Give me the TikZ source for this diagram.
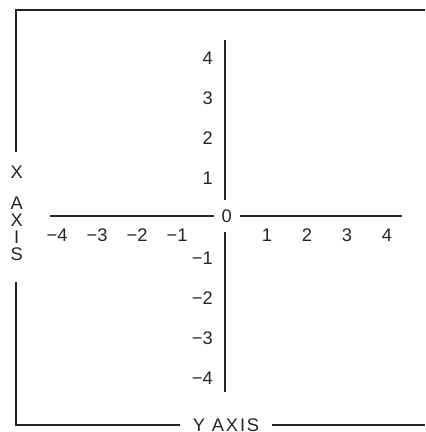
\documentclass[tikz,border=0pt]{standalone}
\usepackage{fontspec}
\setmainfont{Liberation Sans}
\newfontfamily\axisfont[LetterSpace=10]{Liberation Sans}
\usepackage{xcolor}
\usepackage{tikz}
\usetikzlibrary{positioning, calc}
\definecolor{PlotInk}{RGB}{38, 36, 32}

\begin{document}
\begin{tikzpicture}[
    rule/.style={draw=PlotInk, line width=1.3pt},
    numlab/.style={inner sep=0pt, text=PlotInk, font=\fontsize{13}{14}\selectfont}
  ]
    \useasboundingbox (-5.625,-5.4) rectangle (5,5.4);

    % frame round the plane
    \coordinate (lt) at (-5.225,5.15);
    \coordinate (rt) at (5,5.15);
    \coordinate (lb) at (-5.225,-5.225);
    \coordinate (rb) at (5,-5.225);
    \coordinate (lgapt) at (-5.225,1.6);
    \coordinate (lgapb) at (-5.225,-1.65);
    \node[text=PlotInk, inner sep=0pt, align=center,
      font=\fontsize{13}{12.05}\selectfont] (xlab) at (-5.21,0.06)
      {X\\[10pt]A\\X\\I\\S};
    \node[text=PlotInk, inner xsep=0.32cm, inner ysep=0pt,
      font=\fontsize{13}{14}\selectfont\axisfont] (ylab) at (0.025,-5.225) {Y AXIS};
    \draw[rule] (rt) -- (lt) -- (lgapt);
    \draw[rule] (lgapb) -- (lb) -- (ylab.west);
    \draw[rule] (ylab.east) -- (rb);

    % axes
    \node[numlab, inner xsep=0.19cm, inner ysep=0.23cm] (zero) at (0.04,0) {0};
    \coordinate (ytop) at (0,4.4);
    \coordinate (ybot) at (0,-4.4);
    \coordinate (xleft) at (-4.375,0);
    \coordinate (xright) at (4.425,0);
    \draw[rule] (zero.north -| ytop) -- (ytop);
    \draw[rule] (zero.south -| ybot) -- (ybot);
    \draw[rule] (zero.west) -- (xleft);
    \draw[rule] (zero.east) -- (xright);

    % numbers
    \foreach \k in {1,2,3,4} {
      \node[numlab] (xp\k) at (\k+0.05,-0.475) {\k};
      \node[numlab, anchor=east] (xn\k) at (-\k+0.07,-0.475) {−\k};
      \node[numlab, anchor=east] (yp\k) at (-0.3,\k-0.05) {\k};
      \node[numlab, anchor=east] (yn\k) at (-0.3,-\k-0.05) {−\k};
    }
  \end{tikzpicture}
\end{document}
